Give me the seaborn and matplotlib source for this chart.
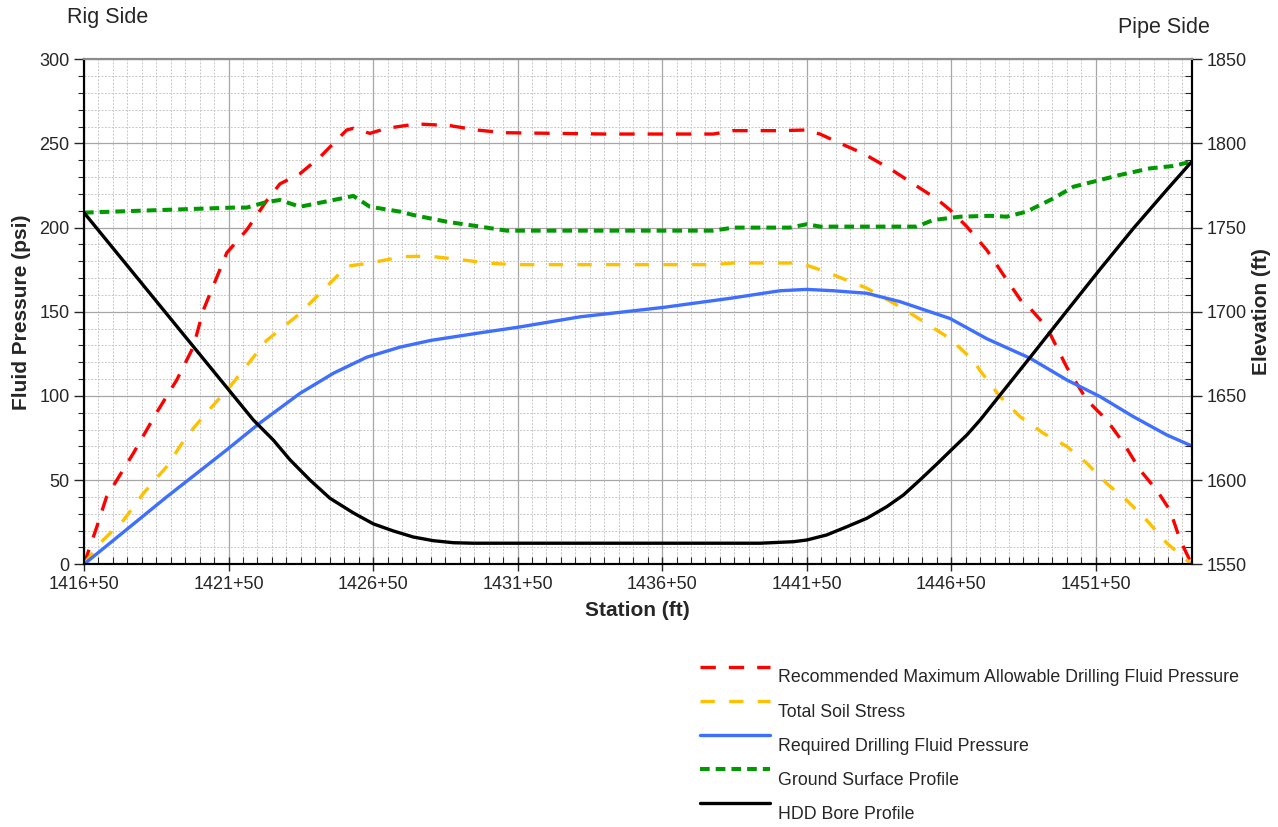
import numpy as np
import pandas as pd
import seaborn as sns
import matplotlib.pyplot as plt
from matplotlib.ticker import MultipleLocator, FuncFormatter

#======style======
sns.set_style('white')
plt.rcParams['font.family'] = ['Liberation Sans', 'DejaVu Sans']

#======data (stations in ft, pressures in psi, elevations in ft)======
sta0 = 141650
sta_end = 145482

max_allow_x = [0, 44, 78, 171, 251, 321, 378, 413, 494, 563, 632, 678, 747, 817, 909, 932, 989, 1047, 1151,
               1266, 1358, 1451, 1800, 2177, 2246, 2408, 2500, 2546, 2604, 2696, 2788, 2869, 2950, 2996,
               3054, 3123, 3192, 3244, 3273, 3330, 3400, 3469, 3538, 3596, 3653, 3711, 3757, 3792, 3832]
max_allow_y = [0, 22, 40, 66, 90, 109.5, 129, 151, 185, 198.6, 216, 226, 232, 242, 258, 259, 256, 259, 261.6,
               260.6, 258, 256.4, 255.6, 255.6, 257.6, 257.6, 258, 255.6, 251, 244, 235, 226, 217, 210.5,
               200.6, 186.7, 169, 156, 152, 141, 117, 97.6, 85.7, 72, 56, 44, 32, 14.4, 0]

soil_x = [0, 55, 136, 205, 286, 355, 424, 505, 586, 632, 690, 747, 828, 909, 989, 1105, 1197, 1301, 1393,
          1485, 2177, 2246, 2477, 2546, 2592, 2708, 2823, 2915, 2996, 3077, 3100, 3169, 3238, 3319, 3400,
          3469, 3538, 3607, 3677, 3746, 3832]
soil_y = [0, 12.5, 26, 42, 58, 76, 90, 105.5, 123, 133, 141, 149, 163, 177, 179, 182.8, 183, 181, 179,
          178, 178, 179, 179, 175, 172, 164, 153, 143, 134, 121, 115, 99.6, 87.7, 77.8, 70,
          60, 48, 38, 26, 12.5, 0]

req_x = [0, 286, 494, 609, 747, 863, 978, 1093, 1200, 1370, 1508, 1716, 2004, 2235, 2408, 2500, 2592, 2708,
         2823, 2996, 3123, 3273, 3400, 3515, 3630, 3746, 3832]
req_y = [0, 40, 68, 84, 101.5, 113.5, 123, 129, 133, 137.5, 141, 147, 152.6, 158, 162.5, 163.3, 162.5, 161,
         156, 146, 134, 122.4, 109.5, 99.6, 87.7, 76.8, 70.3]

ground_x = [0, 171, 344, 517, 563, 632, 678, 747, 863, 932, 989, 1093, 1139, 1255, 1370, 1462, 2177, 2246,
            2442, 2500, 2547, 2880, 2938, 3031, 3135, 3192, 3261, 3354, 3423, 3515, 3584, 3688, 3767, 3832]
ground_y = [1758.9, 1759.9, 1760.9, 1761.9, 1761.9, 1765.2, 1766.4, 1762.4, 1766.4, 1768.8, 1762.4, 1759.5,
            1757.5, 1753.5, 1750.6, 1748.2, 1748.2, 1750, 1750, 1752, 1750.6, 1750.6, 1754.5, 1756.5,
            1757, 1756.5, 1759.5, 1767.4, 1774.3, 1778.3, 1781.3, 1785.2, 1786.6, 1789.2]

bore_x = [0, 586, 655, 713, 782, 851, 932, 1001, 1070, 1139, 1209, 1278, 1347, 2339, 2454, 2500, 2569, 2639,
          2708, 2777, 2835, 2892, 2950, 3002, 3054, 3100, 3192, 3284, 3400, 3515, 3630, 3746, 3832]
bore_y = [1758.9, 1635.7, 1623.8, 1612, 1600, 1589.2, 1580.5, 1574, 1569.8, 1566.2, 1564, 1562.8, 1562.5,
          1562.5, 1563.4, 1564.4, 1567.4, 1572.3, 1577.3, 1584.2, 1591.2, 1600.1, 1609.5, 1618.2, 1626.8,
          1635.7, 1655.5, 1675.3, 1700.5, 1725.3, 1749.5, 1772.5, 1789.2]

labels = ['Recommended Maximum Allowable Drilling Fluid Pressure', 'Total Soil Stress',
          'Required Drilling Fluid Pressure', 'Ground Surface Profile', 'HDD Bore Profile']

def make_df(xs, ys):
    return pd.DataFrame({'station': np.array(xs) + sta0, 'value': ys})

#======figure======
fig = plt.figure(figsize=(12.78, 8.27), dpi=100)
ax = fig.add_axes([0.0657, 0.3177, 0.8668, 0.6106])
ax2 = ax.twinx()

sns.lineplot(data=make_df(max_allow_x, max_allow_y), x='station', y='value', ax=ax, estimator=None,
             color='#FF0000', lw=2.4, linestyle=(0, (4.6, 3.9)), label=labels[0], legend=False)
sns.lineplot(data=make_df(soil_x, soil_y), x='station', y='value', ax=ax, estimator=None,
             color='#FFC000', lw=2.4, linestyle=(0, (4.3, 4.3)), label=labels[1], legend=False)
sns.lineplot(data=make_df(req_x, req_y), x='station', y='value', ax=ax, estimator=None,
             color='#3F6FFF', lw=2.4, label=labels[2], legend=False)
sns.lineplot(data=make_df(ground_x, ground_y), x='station', y='value', ax=ax2, estimator=None,
             color='#009900', lw=2.9, linestyle=(0, (2.4, 1.5)), label=labels[3], legend=False)
sns.lineplot(data=make_df(bore_x, bore_y), x='station', y='value', ax=ax2, estimator=None,
             color='black', lw=2.4, label=labels[4], legend=False)

#======axes======
ax.set_xlim(sta0, sta_end)
ax.set_ylim(0, 300)
ax2.set_ylim(1550, 1850)

ax.xaxis.set_major_locator(MultipleLocator(500))
ax.xaxis.set_minor_locator(MultipleLocator(50))
ax.yaxis.set_major_locator(MultipleLocator(50))
ax.yaxis.set_minor_locator(MultipleLocator(10))
ax2.yaxis.set_major_locator(MultipleLocator(50))
ax2.yaxis.set_minor_locator(MultipleLocator(10))
ax.set_xticks(np.arange(sta0, sta_end, 500))
ax.xaxis.set_major_formatter(FuncFormatter(lambda v, p: f"{int(v) // 100}+{int(v) % 100:02d}"))

ax.grid(which='major', color='#A6A6A6', lw=0.9, ls='-')
ax.grid(which='minor', color='#C8C8C8', lw=0.7, ls=(0, (2, 1.5)))
ax.set_axisbelow(True)

ax.tick_params(axis='y', which='major', direction='out', length=7, width=1, labelsize=13, left=True)
ax.tick_params(axis='y', which='minor', direction='out', length=4, width=0.8, left=True)
ax.tick_params(axis='x', which='major', direction='inout', length=10, width=1, labelsize=13, bottom=True)
ax.tick_params(axis='x', which='minor', direction='in', length=5, width=0.8, bottom=True)
ax2.tick_params(axis='y', which='major', direction='out', length=7, width=1, labelsize=13, right=True)
ax2.tick_params(axis='y', which='minor', direction='in', length=5, width=0.8, right=True)

for a in (ax, ax2):
    for s in ('left', 'bottom', 'right'):
        a.spines[s].set_color('black')
        a.spines[s].set_linewidth(1.5)
    a.spines['top'].set_color('#8C8C8C')
    a.spines['top'].set_linewidth(1.5)

ax.set_xlabel('Station (ft)', fontsize=15, fontweight='bold', labelpad=6)
ax.set_ylabel('Fluid Pressure (psi)', fontsize=15, fontweight='bold', labelpad=6)
ax2.set_ylabel('Elevation (ft)', fontsize=15, fontweight='bold', labelpad=4)

fig.text(67 / 1278, 1 - 18 / 827, 'Rig Side', fontsize=15.5, ha='left', va='center')
fig.text(1210 / 1278, 1 - 27 / 827, 'Pipe Side', fontsize=15.5, ha='right', va='center')

#======legend======
handles = ax.get_lines() + ax2.get_lines()
leg = fig.legend(handles, labels, loc='upper left', bbox_to_anchor=(688 / 1278, 1 - 657 / 827),
                 frameon=False, fontsize=12.8, handlelength=3.9, handletextpad=0.45, labelspacing=0.97,
                 borderpad=0.2)
# handles sit a bit above the text, like the original
for ln in leg.get_lines():
    ln.set_ydata(np.asarray(ln.get_ydata()) + 7)

fig.savefig('out.png', dpi=100)
